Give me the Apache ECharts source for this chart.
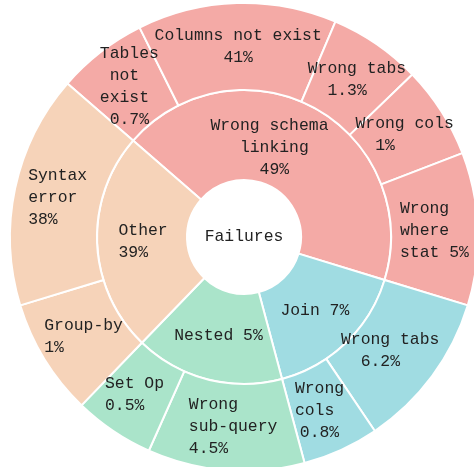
<!DOCTYPE html>
<html><head><meta charset="utf-8">
<script src="https://cdn.jsdelivr.net/npm/echarts@6/dist/echarts.min.js"></script>
<style>html,body{margin:0;padding:0;background:#fff}#c{width:474px;height:467px}</style>
</head><body><div id="c"></div>
<script>
// ---- data ----
const rootName = 'Failures';
const groupNames = ['Wrong schema linking', 'Join', 'Nested', 'Other'];
const groupPct = ['49%', '7%', '5%', '39%'];
const groupLabels = [
  ['Wrong schema', '   linking  ', '     49%    '],
  ['Join 7%'],
  ['Nested 5%'],
  ['Other', '39%  ']
];
const leafNames = [
  ['Tables not exist', 'Columns not exist', 'Wrong tabs', 'Wrong cols', 'Wrong where stat'],
  ['Wrong tabs', 'Wrong cols'],
  ['Wrong sub-query', 'Set Op'],
  ['Group-by', 'Syntax error']
];
const leafPct = [
  ['0.7%', '41%', '1.3%', '1%', '5%'],
  ['6.2%', '0.8%'],
  ['4.5%', '0.5%'],
  ['1%', '38%']
];
const leafLabels = [
  [['Tables', ' not  ', 'exist ', ' 0.7% '], ['Columns not exist', '       41%       '], ['Wrong tabs', '  1.3%    '], ['Wrong cols', '  1%      '], ['Wrong  ', 'where  ', 'stat 5%']],
  [['Wrong tabs', '  6.2%    '], ['Wrong', 'cols ', '0.8%']],
  [['Wrong    ', 'sub-query', '4.5%     '], ['Set Op', '0.5%  ']],
  [['Group-by', '1%      '], ['Syntax', 'error ', '38%   ']]
];
// arc size of each outer wedge as drawn in the picture (degrees)
const leafSizes = [
  [22.5, 49.5, 23, 23, 38],
  [39, 19],
  [39, 20],
  [29, 58]
];

// ---- styling / layout ----
const groupColors = ['#F4AAA6', '#A0DCE2', '#AAE4CA', '#F6D3B9'];
const groupShift = [[-24, -1], [0, 0], [0, -1.5], [1, 11]];
const leafShift = [
  [[2, 6], [0, 4], [5, 2.5], [0, 13], [0, 1.5]],
  [[-7, 19], [-3.5, -2]],
  [[4, -1.5], [-3, 0]],
  [[2, 1.5], [0, 3]]
];
function pad(s) {
  const dx = s[0], dy = s[1];
  return [dy > 0 ? 2 * dy : 0, dx < 0 ? -2 * dx : 0, dy < 0 ? -2 * dy : 0, dx > 0 ? 2 * dx : 0];
}

const children = groupNames.map((g, i) => ({
  name: g + ' ' + groupPct[i],
  itemStyle: { color: groupColors[i] },
  label: { formatter: groupLabels[i].join('\n'), padding: pad(groupShift[i]) },
  children: leafNames[i].map((n, j) => ({
    name: n + ' ' + leafPct[i][j],
    value: leafSizes[i][j],
    itemStyle: { color: groupColors[i] },
    label: { formatter: leafLabels[i][j].join('\n'), padding: pad(leafShift[i][j]) }
  }))
}));

const chart = echarts.init(document.getElementById('c'), null, { renderer: 'canvas' });
chart.setOption({
  animation: false,
  series: [{
    type: 'sunburst',
    center: [244, 237],
    startAngle: 139,
    sort: null,
    nodeClick: false,
    emphasis: { disabled: true },
    data: [{
      name: rootName,
      itemStyle: { color: '#ffffff', borderWidth: 0 },
      label: { formatter: rootName },
      children: children
    }],
    itemStyle: { borderColor: '#ffffff', borderWidth: 2 },
    label: {
      rotate: 0,
      color: '#222222',
      fontFamily: 'Liberation Mono',
      fontSize: 16.4,
      lineHeight: 22
    },
    levels: [
      {},
      { r0: 0, r: 57 },
      { r0: 57, r: 147 },
      { r0: 147, r: 234 }
    ]
  }]
});
</script></body></html>
